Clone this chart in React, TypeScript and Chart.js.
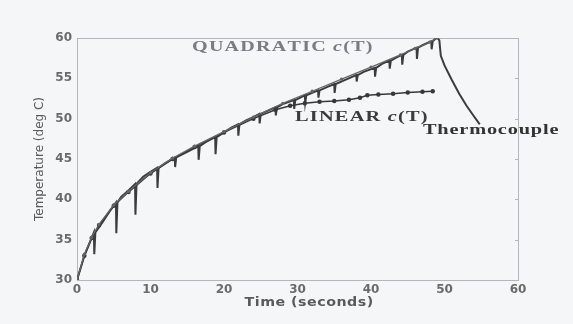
import React, { useEffect, useRef } from "react";
import { Chart, registerables } from "chart.js";

Chart.register(...registerables);

// Thermocouple base curve (time s, temperature deg C)
const thermoTime = [0, 1, 2.3, 3.5, 4.5, 5.3, 6, 7, 7.9, 9, 10, 10.9, 12, 13.3, 15, 16.5, 17.5, 18.8, 20, 21, 21.9, 23, 24, 24.8, 26, 27, 28, 29.5, 31, 32.8, 34, 35, 36.5, 38, 39, 40.5, 41.5, 42.5, 43.5, 44.2, 45, 46.2, 47, 48.2, 49, 49.3, 49.5, 50, 51, 52, 53, 54, 54.8];
const thermoTemp = [30, 33, 35.9, 37.2, 38.6, 39.6, 40.3, 41.1, 41.9, 42.8, 43.4, 43.9, 44.5, 45.2, 45.9, 46.6, 47.1, 47.7, 48.3, 48.9, 49.3, 49.8, 50.2, 50.6, 51.0, 51.4, 51.8, 52.3, 52.9, 53.5, 53.9, 54.3, 54.8, 55.4, 55.8, 56.3, 56.8, 57.2, 57.6, 57.9, 58.3, 58.8, 59.1, 59.6, 60.1, 59.7, 57.8, 56.6, 54.8, 53.1, 51.6, 50.3, 49.3];
// Downward spikes of the thermocouple trace
const dipTime = [2.3, 5.3, 7.9, 10.9, 13.3, 16.5, 18.8, 21.9, 24.8, 27, 29.5, 31, 32.8, 35, 38, 40.5, 42.5, 44.2, 46.2, 48.2];
const dipBottom = [33.2, 35.8, 38.1, 41.4, 44.0, 44.9, 45.6, 47.9, 49.4, 50.4, 51.2, 52.0, 52.6, 53.2, 54.6, 55.2, 56.2, 56.7, 57.4, 58.6];

// Quadratic c(T) model
const quadTime = [0, 1, 2, 3, 5, 7, 10, 13, 16, 20, 24, 28, 32, 36, 40, 44, 46, 48, 49];
const quadTemp = [30, 33.2, 35.3, 36.9, 39.3, 41.0, 43.3, 45.1, 46.6, 48.4, 50.2, 51.9, 53.4, 54.9, 56.4, 57.9, 58.7, 59.5, 60.0];

// Linear c(T) model
const linTime = [0, 1, 2, 3, 5, 7, 10, 13, 16, 20, 24, 27, 29, 31, 33, 35, 37, 38.5, 39.5, 41, 43, 45, 47, 48.4];
const linTemp = [30, 33, 35.2, 36.8, 39.2, 40.9, 43.2, 45.0, 46.5, 48.3, 50.0, 51.1, 51.6, 51.9, 52.1, 52.2, 52.35, 52.6, 52.9, 53.0, 53.1, 53.25, 53.35, 53.4];

const xTicks = [0, 10, 20, 30, 40, 50, 60];
const yTicks = [30, 35, 40, 45, 50, 55, 60];

const xTitle = "Time (seconds)";
const yTitle = "Temperature (deg C)";

// Annotation labels
const labelQuad = [{ text: "QUADRATIC ", italic: false }, { text: "c", italic: true }, { text: "(T)", italic: false }];
const labelLin = [{ text: "LINEAR ", italic: false }, { text: "c", italic: true }, { text: "(T)", italic: false }];
const labelThermo = [{ text: "Thermocouple", italic: false }];
const labelXTitle = [{ text: xTitle, italic: false }];

type Part = { text: string; italic: boolean };

function buildThermo() {
  const pts: { x: number; y: number }[] = [];
  for (let i = 0; i < thermoTime.length; i++) {
    const t = thermoTime[i];
    const v = thermoTemp[i];
    pts.push({ x: t, y: v });
    const d = dipTime.indexOf(t);
    if (d >= 0) {
      pts.push({ x: t + 0.05, y: dipBottom[d] });
      pts.push({ x: t + 0.2, y: v });
    }
  }
  return pts;
}

function zip(a: number[], b: number[]) {
  return a.map((x, i) => ({ x, y: b[i] }));
}

// draws text fitted between x0 and x1 (horizontal stretch + small letter spacing)
function drawFitted(ctx: CanvasRenderingContext2D, parts: Part[], x0: number, x1: number, y: number, size: number, family: string, color: string, spacing: number) {
  ctx.save();
  ctx.fillStyle = color;
  ctx.textBaseline = "middle";
  ctx.textAlign = "left";
  const fontFor = (p: Part) => `${p.italic ? "italic " : ""}bold ${size}px ${family}`;
  let natural = 0;
  let n = 0;
  for (const p of parts) {
    ctx.font = fontFor(p);
    for (const ch of p.text) {
      natural += ctx.measureText(ch).width;
      n++;
    }
  }
  const sx = (x1 - x0 - spacing * (n - 1)) / natural;
  ctx.translate(x0, y);
  ctx.scale(sx, 1);
  let cx = 0;
  for (const p of parts) {
    ctx.font = fontFor(p);
    for (const ch of p.text) {
      ctx.fillText(ch, cx, 0);
      cx += ctx.measureText(ch).width + spacing / sx;
    }
  }
  ctx.restore();
}

const annotationPlugin = {
  id: "annot",
  beforeDatasetsDraw(chart: any) {
    const { ctx, chartArea: a, scales } = chart;
    ctx.save();
    ctx.strokeStyle = "#b4b6ba";
    ctx.lineWidth = 1;
    ctx.strokeRect(Math.round(a.left) + 0.5, Math.round(a.top) + 0.5, Math.round(a.right - a.left), Math.round(a.bottom - a.top));
    for (const v of yTicks) {
      const py = Math.round(scales.y.getPixelForValue(v)) + 0.5;
      ctx.beginPath();
      ctx.moveTo(a.right, py);
      ctx.lineTo(a.right - 3, py);
      ctx.stroke();
    }
    ctx.restore();
  },
  afterDraw(chart: any) {
    const { ctx, scales, chartArea: a } = chart;
    const X = (v: number) => scales.x.getPixelForValue(v);
    const Y = (v: number) => scales.y.getPixelForValue(v);
    const serif = '"Liberation Serif"';
    drawFitted(ctx, labelQuad, X(15.65), X(40.2), Y(58.9), 15, serif, "#7a7c80", 1.2);
    drawFitted(ctx, labelLin, X(29.66), X(47.7), Y(50.2), 15, serif, "#3c3c3c", 1.2);
    drawFitted(ctx, labelThermo, X(47.07), X(65.5), Y(48.6), 15, serif, "#333333", 0.8);
    drawFitted(ctx, labelXTitle, X(22.8), X(40.3), a.bottom + 23, 12, '"DejaVu Sans"', "#5a5a5a", 0.5);
  },
};

export default function App() {
  const ref = useRef<HTMLCanvasElement | null>(null);
  useEffect(() => {
    document.body.style.margin = "0";
    document.body.style.background = "#f5f6f8";
    const canvas = ref.current!;
    const chart = new Chart(canvas, {
      type: "scatter",
      data: {
        datasets: [
          {
            label: "Quadratic c(T)",
            data: zip(quadTime, quadTemp),
            showLine: true,
            borderColor: "#666666",
            backgroundColor: "#666666",
            borderWidth: 1.3,
            pointRadius: 1,
            tension: 0,
          },
          {
            label: "Linear c(T)",
            data: zip(linTime, linTemp),
            showLine: true,
            borderColor: "#383838",
            backgroundColor: "#383838",
            borderWidth: 1.5,
            pointRadius: 1.5,
            tension: 0,
          },
          {
            label: "Thermocouple",
            data: buildThermo(),
            showLine: true,
            borderColor: "#3c3c3c",
            backgroundColor: "#3c3c3c",
            borderWidth: 2,
            pointRadius: 0,
            tension: 0,
          },
        ],
      },
      options: {
        animation: false,
        responsive: false,
        devicePixelRatio: 1,
        layout: { padding: { top: 38, right: 55, left: 0, bottom: 0 } },
        plugins: { legend: { display: false }, tooltip: { enabled: false } },
        scales: {
          x: {
            type: "linear",
            min: 0,
            max: 60,
            afterFit: (s: any) => { s.height = 44; },
            afterBuildTicks: (s: any) => { s.ticks = xTicks.map((v) => ({ value: v })); },
            grid: { display: false, drawTicks: false },
            border: { display: false },
            ticks: { padding: 3, color: "#6a6a6a", font: { family: "DejaVu Sans", weight: "bold", size: 12 } },
          },
          y: {
            type: "linear",
            min: 30,
            max: 60,
            afterFit: (s: any) => { s.width = 77; },
            afterBuildTicks: (s: any) => { s.ticks = yTicks.map((v) => ({ value: v })); },
            grid: { display: false, drawTicks: false },
            border: { display: false },
            ticks: { padding: 5, color: "#6a6a6a", font: { family: "DejaVu Sans", weight: "bold", size: 12 } },
            title: {
              display: true,
              text: yTitle,
              color: "#5a5a5a",
              font: { family: "DejaVu Sans", size: 12 },
              padding: { top: 33, bottom: 0 },
            },
          },
        },
      },
      plugins: [annotationPlugin],
    } as any);
    return () => chart.destroy();
  }, []);
  return (
    <div style={{ width: 573, height: 324 }}>
      <canvas ref={ref} width={573} height={324} style={{ display: "block" }} />
    </div>
  );
}
